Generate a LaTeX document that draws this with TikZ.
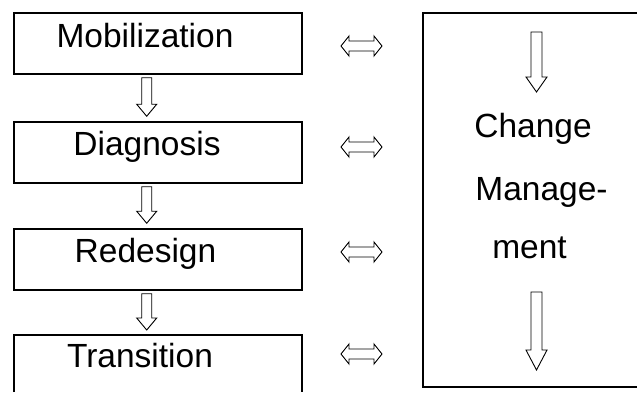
\documentclass[tikz,border=0pt]{standalone}
\usepackage{fontspec}
\setmainfont{Liberation Sans}
\usetikzlibrary{calc}

% hollow downward block arrow: #1 top point, #2 tip point,
% #3 shaft half-width, #4 head half-width, #5 head length
\newcommand\hollowdown[5]{%
  \draw[arrowline] let \p1=(#1), \p2=(#2) in
    (\x1-#3,\y1) -- (\x1+#3,\y1) -- (\x1+#3,\y2+#5) -- (\x1+#4,\y2+#5)
    -- (\x2,\y2) -- (\x1-#4,\y2+#5) -- (\x1-#3,\y2+#5) -- cycle;}

% hollow two-headed block arrow from #1 (left tip) to #2 (right tip)
\newcommand\hollowboth[2]{%
  \draw[arrowline] let \p1=(#1), \p2=(#2) in
    (\x1,\y1) -- (\x1+8pt,\y1+10pt) -- (\x1+8pt,\y1+5pt) -- (\x2-8pt,\y2+5pt)
    -- (\x2-8pt,\y2+10pt) -- (\x2,\y2) -- (\x2-8pt,\y2-10pt) -- (\x2-8pt,\y2-5pt)
    -- (\x1+8pt,\y1-5pt) -- (\x1+8pt,\y1-10pt) -- cycle;}

\begin{document}
\begin{tikzpicture}[x=1pt,y=-1pt,
  stagebox/.style={draw,line width=1.5pt,minimum width=288pt,minimum height=61pt,inner sep=0pt},
  frame/.style={draw,line width=1.5pt},
  lbl/.style={anchor=base,inner sep=0pt,font=\fontsize{33.5}{40}\selectfont},
  arrowline/.style={line width=0.9pt,line join=miter}]
\useasboundingbox (0,0) rectangle (637,392);

% process stages
\node[stagebox] (mob) at (158,43.5) {};
\node[stagebox] (dia) at (158,152.5) {};
\node[stagebox] (red) at (158,259.5) {};
% the last stage is open at the bottom edge
\coordinate (tra nw) at (14,335);
\coordinate (tra ne) at (302,335);
\coordinate (tra north) at (158,335);
\draw[frame] (14,392) -- (tra nw) -- (tra ne) -- (302,392);

\node[lbl] (tmob) at (145,47) {Mobilization};
\node[lbl] (tdia) at (147,155) {Diagnosis};
\node[lbl] (tred) at (145.5,262) {Redesign};
\node[lbl] (ttra) at (140,367) {Transition};

% flow between stages
\hollowdown{$(mob.south)+(-11.3,3)$}{$(dia.north)+(-11.3,-5)$}{5pt}{10pt}{12pt}
\hollowdown{$(dia.south)+(-11.3,3)$}{$(red.north)+(-11.3,-5)$}{5pt}{10pt}{12pt}
\hollowdown{$(red.south)+(-11.3,3)$}{$(tra north)+(-11.3,-5)$}{5pt}{10pt}{12pt}

% change management frame, open on the right
\coordinate (cm nw) at (423,13);
\coordinate (cm sw) at (423,387);
\draw[frame] (637,13) -- (cm nw) -- (cm sw) -- (637,387);
\node[lbl] (tc1) at (533,137) {Change};
\node[lbl] (tc2) at (541.5,200) {Manage-};
\node[lbl] (tc3) at (529.5,258) {ment};

\coordinate (cmtop) at (536.5,32);
\coordinate (cmtip1) at (536.5,92);
\coordinate (cmbot) at (536.5,292);
\coordinate (cmtip2) at (536.5,370);
\hollowdown{cmtop}{cmtip1}{5.5pt}{10.5pt}{15pt}
\hollowdown{cmbot}{cmtip2}{5.5pt}{10.5pt}{20pt}

% links between stages and change management
\coordinate (la1) at (341,46);  \coordinate (lb1) at (382,46);
\coordinate (la2) at (341,147); \coordinate (lb2) at (382,147);
\coordinate (la3) at (341,252); \coordinate (lb3) at (382,252);
\coordinate (la4) at (341,354); \coordinate (lb4) at (382,354);
\hollowboth{la1}{lb1}
\hollowboth{la2}{lb2}
\hollowboth{la3}{lb3}
\hollowboth{la4}{lb4}
\end{tikzpicture}
\end{document}
